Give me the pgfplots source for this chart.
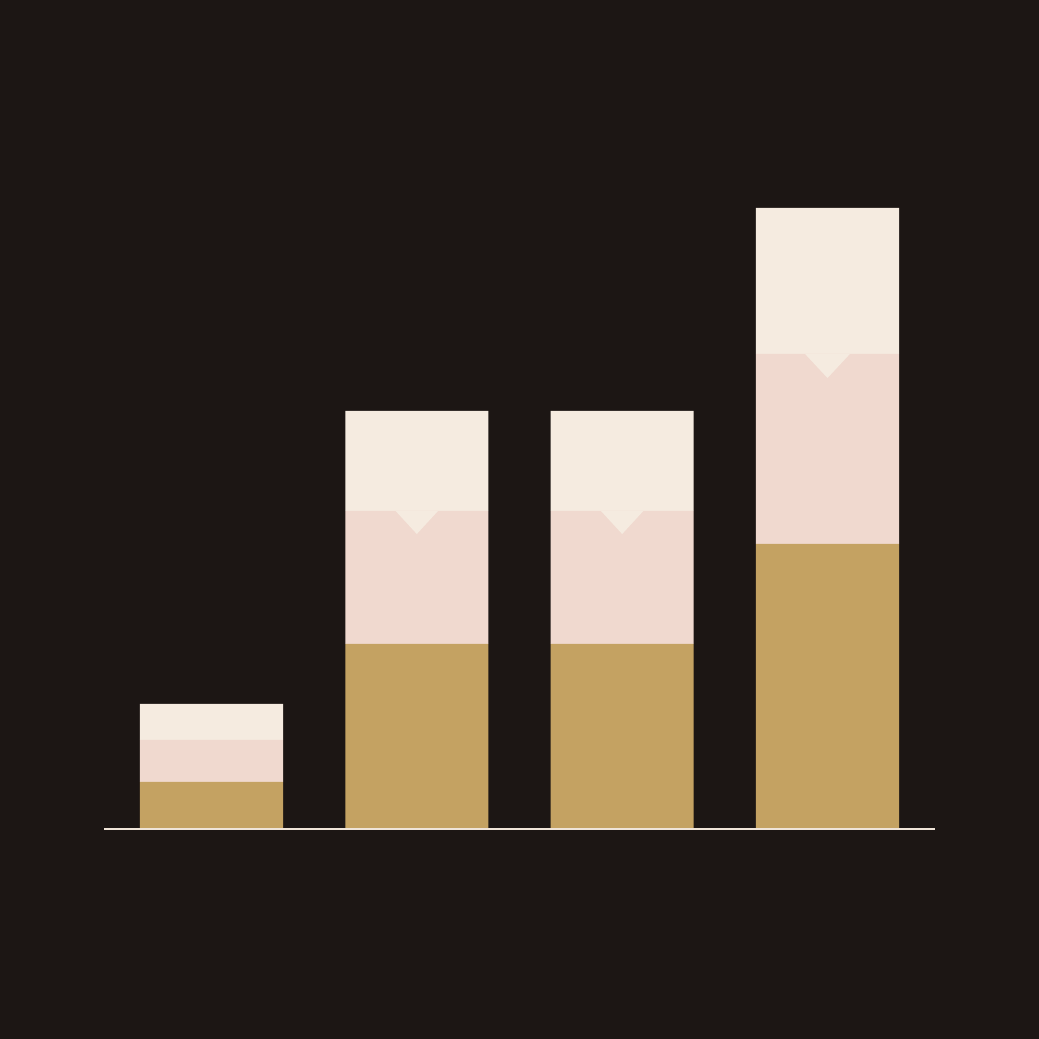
\documentclass[border=0pt]{standalone}
\usepackage{pgfplots}
\pgfplotsset{compat=1.18}
\definecolor{bg}{HTML}{1C1614}
\definecolor{gold}{HTML}{C4A262}
\definecolor{pinkc}{HTML}{F0D9CF}
\definecolor{cream}{HTML}{F5EBE0}
\definecolor{baseln}{HTML}{EFE4D8}
\begin{document}
\begin{tikzpicture}
\pgfplotsset{
  common/.style={
    width=10cm, height=10cm, scale only axis,
    xmin=-1.030, xmax=4.030,
    ymin=-210, ymax=829,
    xtick=\empty, ytick=\empty,
    axis line style={draw=none},
    clip=false,
  }
}
\begin{axis}[common,
  axis background/.style={fill=bg},
  ybar stacked, bar width=0.697,
]
\addplot[fill=gold, draw=none] coordinates {(0,47) (1,185) (2,185) (3,285)};
\addplot[fill=pinkc, draw=none] coordinates {(0,42) (1,133) (2,133) (3,190)};
\addplot[fill=cream, draw=none] coordinates {(0,36) (1,100) (2,100) (3,146)};
\end{axis}
\begin{axis}[common]
% notches (cream triangles) at the top/middle boundary
\addplot[fill=cream, draw=none] coordinates {(0.897,318) (1.103,318) (1,295)} -- cycle;
\addplot[fill=cream, draw=none] coordinates {(1.897,318) (2.103,318) (2,295)} -- cycle;
\addplot[fill=cream, draw=none] coordinates {(2.891,475) (3.109,475) (3,451)} -- cycle;
% baseline
\addplot[baseln, line width=0.6pt] coordinates {(-0.5235,0) (3.524,0)};
\end{axis}
\end{tikzpicture}
\end{document}
